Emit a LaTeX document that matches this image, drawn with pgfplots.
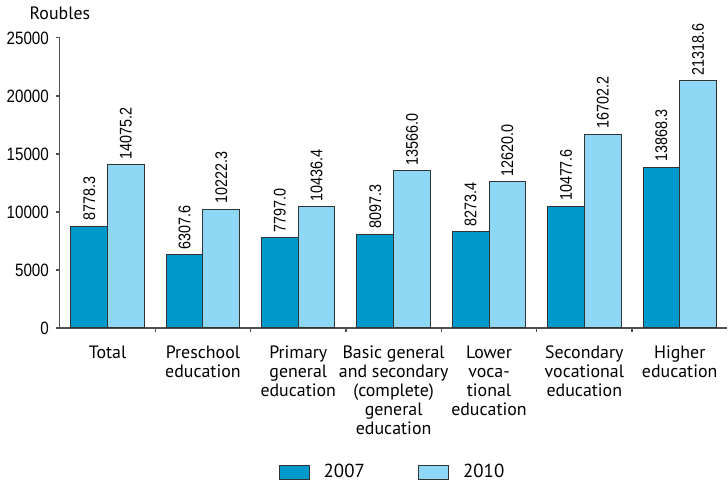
\documentclass[border=0pt]{standalone}
\usepackage{pgfplots}
\pgfplotsset{compat=1.18}
\usepackage{pgfplotstable}
\usepackage{fontspec}
\setmainfont{PT Sans}
\newfontfamily\narrow[FakeStretch=0.85]{Liberation Sans}
\definecolor{cdark}{RGB}{0,153,204}
\definecolor{clight}{RGB}{142,216,245}
\definecolor{cedge}{RGB}{50,50,50}
\definecolor{caxis}{RGB}{80,80,80}
\pgfplotstableread{
x y lab
0 8778.3 8778.3
1 6307.6 6307.6
2 7797.0 7797.0
3 8097.3 8097.3
4 8273.4 8273.4
5 10477.6 10477.6
6 13868.3 13868.3
}\dataA
\pgfplotstableread{
x y lab
0 14075.2 14075.2
1 10222.3 10222.3
2 10436.4 10436.4
3 13566.0 13566.0
4 12620.0 12620.0
5 16702.2 16702.2
6 21318.6 21318.6
}\dataB
\begin{document}
\begin{tikzpicture}
\begin{axis}[
  scale only axis, width=336pt, height=146pt,
  xmin=-0.5, xmax=6.5, ymin=0, ymax=25000,
  axis x line=bottom, axis y line=left,
  axis line style={draw=caxis, line width=0.6pt, -},
  ybar=0pt, bar width=0.385,
  ytick={0,5000,10000,15000,20000,25000},
  scaled y ticks=false,
  yticklabel style={font=\narrow\fontsize{9}{10}\selectfont, text=black},
  /pgf/number format/assume math mode=true,
  /pgf/number format/set thousands separator={},
  major tick length=2pt, tick align=outside,
  tick style={draw=caxis, line width=0.6pt},
  xtick={0.5,1.5,...,5.5}, xticklabels={},
  extra x ticks={0,1,2,3,4,5,6},
  extra x tick labels={Total, Preschool\\education, Primary\\general\\education, Basic general\\and secondary\\(complete)\\general\\education, Lower\\voca-\\tional\\education, Secondary\\vocational\\education, Higher\\education},
  extra x tick style={tick style={draw=none}, tick label style={align=center, font=\fontsize{9}{9.5}\selectfont, text=black, anchor=north, yshift=-3.5pt}},
  nodes near coords,
  point meta=explicit symbolic,
  every node near coord/.append style={rotate=90, anchor=west, font=\narrow\fontsize{8.5}{9}\selectfont, text=black, inner sep=2.5pt},
  clip=false,
  legend columns=2,
  legend style={at={(0.5,-0.455)}, anchor=north, draw=none, inner sep=0pt,
    font=\fontsize{9.5}{10}\selectfont,
    /tikz/every odd column/.style={column sep=5pt},
    /tikz/every even column/.style={column sep=25pt}},
  legend image code/.code={\draw[#1] (0pt,-3.5pt) rectangle (15pt,3.5pt);},
]
\addplot[fill=cdark, draw=cedge, line width=0.5pt] table[x=x, y=y, meta=lab] {\dataA};
\addplot[fill=clight, draw=cedge, line width=0.5pt] table[x=x, y=y, meta=lab] {\dataB};
\legend{2007, 2010}
\node[font=\fontsize{9}{10}\selectfont] at ([yshift=12.5pt]rel axis cs:0,1) {Roubles};
\end{axis}
\end{tikzpicture}
\end{document}
